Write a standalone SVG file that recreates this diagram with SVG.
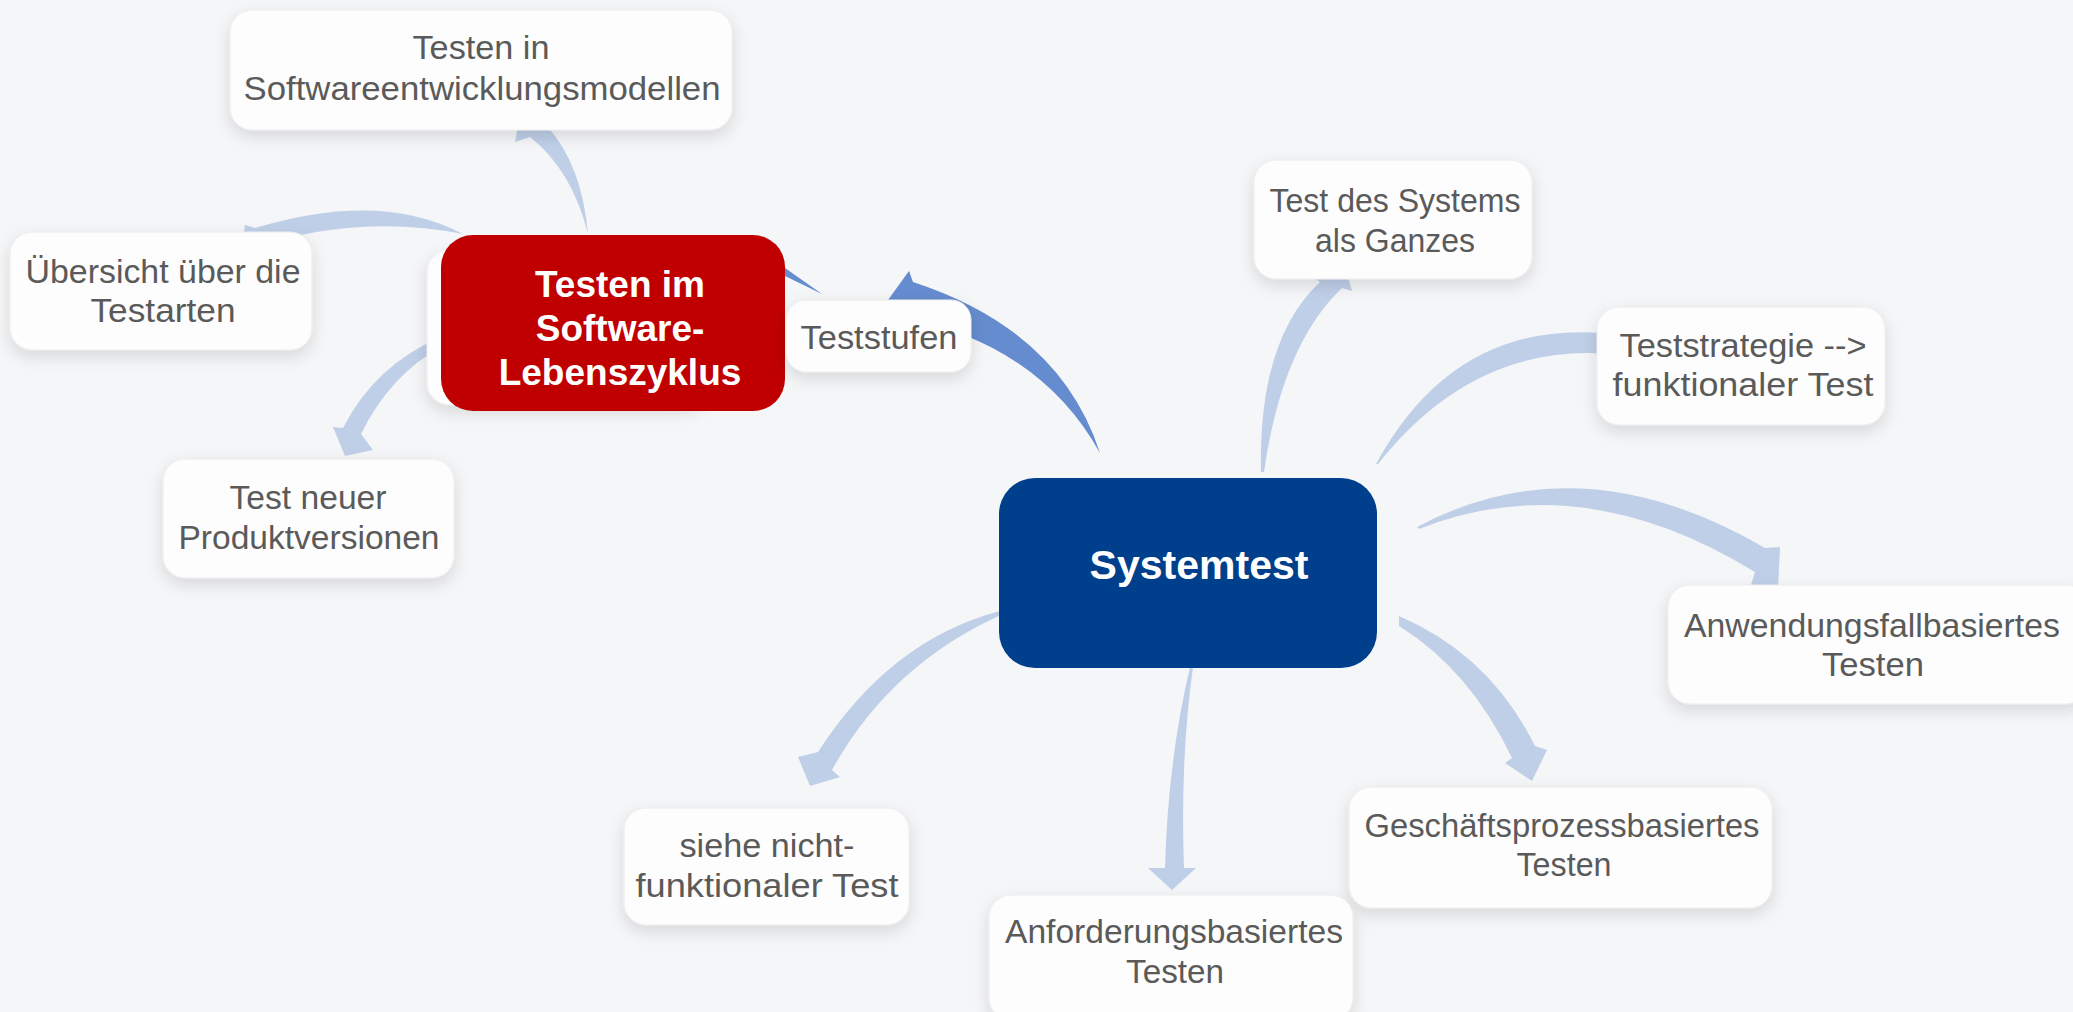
<svg xmlns="http://www.w3.org/2000/svg" width="2073" height="1012" viewBox="0 0 2073 1012">
  <defs>
    <filter id="sh" x="-20%" y="-20%" width="140%" height="160%">
      <feDropShadow dx="0" dy="6" stdDeviation="8" flood-color="#000" flood-opacity="0.13"/>
    </filter>
    <style>
      .node { fill: #fdfdfd; stroke: #ececee; stroke-width: 1; filter: url(#sh); }
      .lbl { font-family: "Liberation Sans", Arial, sans-serif; font-size: 34px; fill: #5a5a5a; text-anchor: middle; }
      .main { font-family: "Liberation Sans", Arial, sans-serif; font-weight: bold; fill: #ffffff; text-anchor: middle; }
      .arr { fill: #b9cbe6; opacity: 0.9; }
      .arrd { fill: #658ccf; }
    </style>
  </defs>
  <rect x="0" y="0" width="2073" height="1012" fill="#f5f6f8"/>

  <g id="connectors">
    <path class="arrd" d="M1100,453 Q1060,330 913,282 L909,271 L888,300 L903,317 Q1040,345 1100,453 Z"/>
    <path class="arrd" d="M822,294 L785,268 L785,276 Z"/>
    <path class="arr" d="M588,234 Q582,165 547,126 L553,118 L522,104 L515,142 L530,137 Q572,170 588,234 Z"/>
    <path class="arr" d="M463,234 Q380,190 255,228 L245,225 L240,257 L280,247 L270,242 Q370,215 463,234 Z"/>
    <path class="arr" d="M441,337 Q375,365 343,428 L333,427 L345,456 L373,450 L361,434 Q390,375 441,347 Z"/>
    <path class="arr" d="M1261,472 Q1258,340 1320,282 L1312,276 L1342,255 L1352,291 L1342,288 Q1282,345 1264,472 Z"/>
    <path class="arr" d="M1376,464 Q1460,310 1626,336 L1647,353 L1630,377 L1629,356 Q1480,335 1378,464 Z"/>
    <path class="arr" d="M1417,527 Q1580,440 1765,548 L1780,547 L1778,588 L1750,588 L1755,572 Q1580,465 1419,529 Z"/>
    <path class="arr" d="M1399,616 Q1490,655 1535,746 L1547,750 L1532,781 L1505,763 L1512,758 Q1470,670 1399,626 Z"/>
    <path class="arr" d="M1193,667 Q1180,760 1184,868 L1196,868 L1172,890 L1148,868 L1165,868 Q1168,760 1190,667 Z"/>
    <path class="arr" d="M1000,611 Q890,640 818,752 L798,757 L810,786 L840,777 L832,770 Q890,665 1001,615 Z"/>
  </g>

  <g id="node-softwareentwicklungsmodelle">
    <rect class="node" x="230" y="10" width="502" height="120" rx="22"/>
    <text class="lbl" x="481" y="59" textLength="137" lengthAdjust="spacingAndGlyphs">Testen in</text>
    <text class="lbl" x="482" y="100" textLength="477" lengthAdjust="spacingAndGlyphs">Softwareentwicklungsmodellen</text>
  </g>

  <g id="node-uebersicht">
    <rect class="node" x="10" y="232" width="302" height="118" rx="22"/>
    <text class="lbl" x="163" y="283" textLength="275" lengthAdjust="spacingAndGlyphs">Übersicht über die</text>
    <text class="lbl" x="163" y="322" textLength="145" lengthAdjust="spacingAndGlyphs">Testarten</text>
  </g>

  <g id="node-hidden">
    <rect class="node" x="427" y="250" width="280" height="155" rx="22"/>
  </g>

  <g id="node-lebenszyklus">
    <rect x="441" y="235" width="344" height="176" rx="32" fill="#c00000"/>
    <text class="main" x="620" y="297" font-size="37">Testen im</text>
    <text class="main" x="620" y="341" font-size="37">Software-</text>
    <text class="main" x="620" y="385" font-size="37">Lebenszyklus</text>
  </g>

  <g id="node-teststufen">
    <rect class="node" x="786" y="300" width="185" height="72" rx="20"/>
    <text class="lbl" x="879" y="349" textLength="157" lengthAdjust="spacingAndGlyphs">Teststufen</text>
  </g>

  <g id="node-produktversionen">
    <rect class="node" x="163" y="459" width="291" height="119" rx="22"/>
    <text class="lbl" x="308" y="509" textLength="157" lengthAdjust="spacingAndGlyphs">Test neuer</text>
    <text class="lbl" x="309" y="549" textLength="261" lengthAdjust="spacingAndGlyphs">Produktversionen</text>
  </g>

  <g id="node-systemtest">
    <rect x="999" y="478" width="378" height="190" rx="36" fill="#003f8c"/>
    <text class="main" x="1199" y="579" font-size="41">Systemtest</text>
  </g>

  <g id="node-ganzes">
    <rect class="node" x="1254" y="160" width="278" height="119" rx="22"/>
    <text class="lbl" x="1395" y="212" textLength="251" lengthAdjust="spacingAndGlyphs">Test des Systems</text>
    <text class="lbl" x="1395" y="252" textLength="160" lengthAdjust="spacingAndGlyphs">als Ganzes</text>
  </g>

  <g id="node-teststrategie">
    <rect class="node" x="1597" y="307" width="288" height="118" rx="22"/>
    <text class="lbl" x="1743" y="357" textLength="247" lengthAdjust="spacingAndGlyphs">Teststrategie --&gt;</text>
    <text class="lbl" x="1743" y="396" textLength="261" lengthAdjust="spacingAndGlyphs">funktionaler Test</text>
  </g>

  <g id="node-anwendungsfall">
    <rect class="node" x="1668" y="585" width="420" height="119" rx="22"/>
    <text class="lbl" x="1872" y="637" textLength="376" lengthAdjust="spacingAndGlyphs">Anwendungsfallbasiertes</text>
    <text class="lbl" x="1873" y="676" textLength="102" lengthAdjust="spacingAndGlyphs">Testen</text>
  </g>

  <g id="node-geschaeftsprozess">
    <rect class="node" x="1349" y="787" width="423" height="121" rx="22"/>
    <text class="lbl" x="1562" y="837" textLength="395" lengthAdjust="spacingAndGlyphs">Geschäftsprozessbasiertes</text>
    <text class="lbl" x="1564" y="876" textLength="95" lengthAdjust="spacingAndGlyphs">Testen</text>
  </g>

  <g id="node-anforderung">
    <rect class="node" x="989" y="895" width="364" height="125" rx="22"/>
    <text class="lbl" x="1174" y="943" textLength="338" lengthAdjust="spacingAndGlyphs">Anforderungsbasiertes</text>
    <text class="lbl" x="1175" y="983" textLength="98" lengthAdjust="spacingAndGlyphs">Testen</text>
  </g>

  <g id="node-nichtfunktional">
    <rect class="node" x="624" y="808" width="285" height="117" rx="22"/>
    <text class="lbl" x="767" y="857" textLength="175" lengthAdjust="spacingAndGlyphs">siehe nicht-</text>
    <text class="lbl" x="767" y="897" textLength="263" lengthAdjust="spacingAndGlyphs">funktionaler Test</text>
  </g>
</svg>
